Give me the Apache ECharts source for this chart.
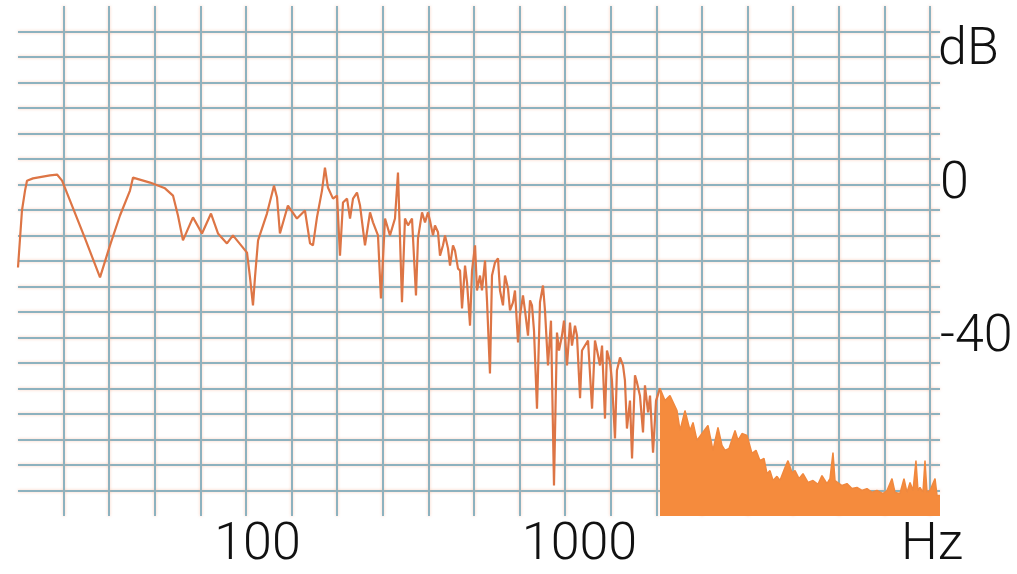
<!DOCTYPE html>
<html><head><meta charset="utf-8">
<script src="https://cdn.jsdelivr.net/npm/echarts@6/dist/echarts.min.js"></script>
<style>html,body{margin:0;padding:0;background:#fff}#c{width:1017px;height:574px}</style>
</head><body><div id="c"></div>
<script>
// Spectrum trace (low / mid frequencies), Hz and dB
const traceHz = [18.04,18.56,18.97,19.24,20.08,22.68,23.85,24.72,26.17,29.13,32.43,34.83,37.41,40.18,41.06,46.37,51.61,54.65,56.63,58.69,63.05,67.24,71.71,75.39,80.39,83.91,92.77,94.78,96.83,98.22,100.4,107.0,110.9,112.5,115.0,117.4,124.3,132.6,140.4,145.6,148.7,153.0,158.6,162.0,165.5,171.6,176.6,180.4,184.3,189.7,193.8,198.0,203.7,208.2,215.7,223.6,228.4,236.7,241.8,248.9,257.9,267.3,273.1,281.0,287.1,293.4,301.9,310.6,315.1,324.3,331.3,338.5,343.2,350.8,355.8,363.6,368.8,376.8,382.3,390.5,396.2,404.7,410.6,419.5,425.6,431.7,441.1,447.4,457.1,463.7,473.8,480.5,491.0,497.9,508.9,516.1,527.2,534.9,546.5,558.3,566.4,578.6,587.0,599.8,608.4,621.6,630.5,644.2,653.5,667.6,677.2,692.0,702.0,712.0,722.3,737.9,753.9,770.2,781.3,798.3,815.6,833.3,851.3,863.8,882.3,895.3,914.6,934.4,947.7,968.3,982.2,1004,1018,1040,1063,1094,1117,1134,1158,1175,1200,1217,1244,1261,1289,1307,1336,1365,1384,1404,1435,1456,1487,1509,1541,1575,1597,1633,1656,1692,1729,1778];
const traceDb = [-21.7,-6.8,-1.6,1.0,1.6,2.4,2.6,1.0,-4.2,-14.1,-24.3,-15.9,-8.1,-1.6,1.8,0.5,-1.0,-2.9,-8.1,-14.6,-8.6,-12.8,-7.6,-12.8,-15.4,-13.3,-17.8,-24.3,-31.6,-24.3,-14.6,-7.6,-2.4,-0.3,-3.4,-12.8,-5.5,-8.9,-6.8,-15.4,-15.9,-8.6,-1.6,4.4,-0.8,-3.7,-2.9,-18.6,-4.7,-3.7,-8.9,-3.7,-2.1,-5.5,-15.9,-7.3,-9.9,-13.3,-29.8,-8.9,-13.3,-8.9,3.1,-30.8,-8.9,-10.7,-8.9,-29.0,-14.1,-7.3,-9.9,-7.3,-9.4,-13.3,-10.7,-12.5,-18.6,-15.9,-13.3,-16.7,-21.2,-15.9,-17.3,-22.0,-22.5,-32.4,-21.2,-25.6,-36.9,-22.5,-15.9,-27.7,-23.8,-27.7,-19.9,-30.3,-49.4,-23.8,-20.4,-19.3,-27.7,-31.6,-23.8,-27.2,-32.9,-30.8,-27.7,-41.3,-34.2,-29.0,-32.9,-39.5,-30.3,-31.6,-38.2,-58.6,-30.8,-26.4,-32.9,-47.3,-35.6,-78.7,-38.7,-43.4,-39.5,-35.6,-47.3,-36.1,-42.1,-36.9,-39.5,-55.9,-43.4,-42.1,-40.8,-58.6,-40.8,-43.4,-47.3,-42.1,-61.2,-43.4,-46.5,-51.2,-66.4,-48.6,-45.2,-47.3,-51.2,-63.8,-56.5,-71.6,-49.9,-51.8,-55.2,-64.8,-52.5,-59.6,-55.2,-70.1,-56.5,-53.3];
// Dense high-frequency noise band (upper envelope), Hz and dB
const bandHz = [1778,1843,1910,2008,2052,2126,2204,2252,2317,2401,2506,2597,2692,2770,2831,2913,3041,3107,3197,3313,3433,3533,3636,3741,3822,3905,3990,4105,4194,4347,4441,4570,4670,4805,4944,5124,5311,5504,5663,5869,5997,6127,6216,6305,6534,6771,7018,7273,7537,7811,8096,8390,8760,9017,9344,9546,9893,10180,10400,10630,10860,11090,11250,11410,11660,11830,12000,12260,12710,12890,13170];
const bandDb = [-53.3,-56.5,-55.2,-59.1,-64.3,-59.1,-64.3,-62.2,-66.9,-65.1,-63.0,-69.5,-63.5,-68.2,-69.5,-69.0,-64.3,-66.9,-65.1,-65.6,-70.3,-69.5,-72.2,-71.6,-75.6,-74.8,-77.4,-76.3,-77.4,-74.0,-72.2,-75.3,-74.8,-76.9,-75.6,-77.9,-77.4,-78.4,-76.1,-78.2,-76.9,-70.1,-77.4,-77.9,-78.7,-78.2,-79.5,-79.2,-80.0,-79.5,-80.5,-80.0,-80.8,-80.0,-76.9,-80.5,-80.8,-76.9,-80.5,-77.9,-80.0,-72.2,-80.0,-79.2,-80.5,-72.2,-80.5,-80.0,-76.9,-81.3,-81.3];
const xTickLabels = [100, 1000];
const yTickLabels = [0, -40];
const xName = 'Hz';
const yName = 'dB';

const FONT = 'Roboto';
const TXT = '#111';
const gridLine = {
  show: true, showMinLine: false, showMaxLine: false,
  lineStyle: { color: '#8db2bf', width: 2, shadowColor: 'rgba(245,160,130,0.55)', shadowBlur: 3 }
};
const nameStyle = { fontSize: 52, fontFamily: FONT, fontWeight: 300, fill: TXT };
const chart = echarts.init(document.getElementById('c'), null, { renderer: 'canvas' });
chart.setOption({
  animation: false,
  backgroundColor: '#ffffff',
  grid: { left: 18, right: 77, top: 6, bottom: 58, containLabel: false, outerBoundsMode: 'none' },
  xAxis: [
    {
      type: 'log', logBase: 10, min: 18.04, max: 13170, position: 'bottom',
      axisLine: { show: false }, axisTick: { show: false }, splitLine: { show: false },
      axisLabel: {
        customValues: xTickLabels, margin: 4, fontSize: 52, fontFamily: FONT, fontWeight: 300, color: TXT,
        formatter: v => String(Math.round(v))
      }
    },
    {
      type: 'value', min: 0, max: 20.22, interval: 1, position: 'top',
      axisLine: { show: false }, axisTick: { show: false }, axisLabel: { show: false },
      splitLine: gridLine
    }
  ],
  yAxis: [
    {
      type: 'value', position: 'right', min: -13 * 20 / 3, max: 7 * 20 / 3, interval: 20 / 3,
      axisLine: { show: false }, axisTick: { show: false },
      splitLine: gridLine,
      axisLabel: {
        customValues: yTickLabels, margin: 0, fontSize: 52, fontFamily: FONT, fontWeight: 300, color: TXT, align: 'left',
        formatter: v => String(Math.round(v))
      }
    }
  ],
  graphic: [
    { type: 'text', x: 932, y: 520, z: 10, style: Object.assign({ text: xName, align: 'center', verticalAlign: 'top' }, nameStyle) },
    { type: 'text', x: 938, y: 51, z: 10, style: Object.assign({ text: yName, align: 'left', verticalAlign: 'middle' }, nameStyle) }
  ],
  series: [
    {
      type: 'line', xAxisIndex: 0, yAxisIndex: 0, symbol: 'none', clip: true,
      lineStyle: { color: '#dd7545', width: 2.2 },
      data: traceHz.map((f, i) => [f, traceDb[i]])
    },
    {
      type: 'line', xAxisIndex: 0, yAxisIndex: 0, symbol: 'none', clip: true,
      lineStyle: { color: '#f0883e', width: 1.5 },
      areaStyle: { color: '#f58b3d', opacity: 1, origin: 'start' },
      data: bandHz.map((f, i) => [f, bandDb[i]])
    }
  ]
});
</script>
</body></html>
